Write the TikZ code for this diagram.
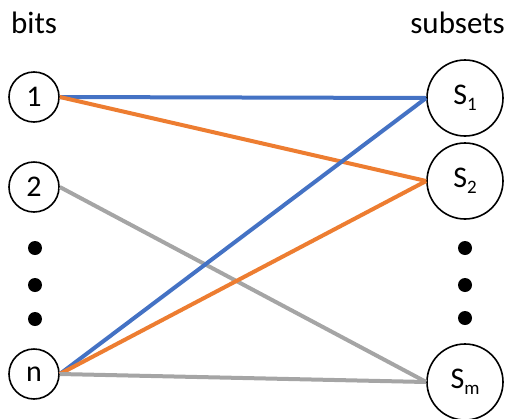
\documentclass[tikz,border=0pt]{standalone}
\usepackage{fontspec}
\setmainfont{Carlito}
\definecolor{eblue}{HTML}{4472C4}
\definecolor{eorange}{HTML}{ED7D31}
\definecolor{egray}{HTML}{A5A5A5}
\tikzset{
  bit/.style={draw=black, line width=1.6pt, circle, minimum size=50pt, inner sep=0pt, font=\fontsize{30}{34}\selectfont},
  subset/.style={draw=black, line width=1.6pt, circle, minimum size=76pt, inner sep=0pt, font=\fontsize{30}{34}\selectfont},
  dotnode/.style={fill=black, circle, minimum size=14pt, inner sep=0pt},
  lbl/.style={font=\fontsize{31}{34}\selectfont, inner sep=0pt},
  edge/.style={line width=4pt}
}
\newcommand{\sub}[1]{\raisebox{-6pt}{\fontsize{19}{21}\selectfont #1}}
\begin{document}
\begin{tikzpicture}[x=1pt,y=-1pt]
\useasboundingbox (0,0) rectangle (506,418);
\node[lbl, anchor=base west] (bits) at (11,33) {bits};
\node[lbl, anchor=base east] (subsets) at (505,33) {subsets};
\node[bit] (b1) at (34,97) {1};
\node[bit] (b2) at (34,187) {2};
\node[bit] (bn) at (34,374) {n};
\node[dotnode] (l1) at (35,248) {};
\node[dotnode] (l2) at (35,285) {};
\node[dotnode] (l3) at (35,319) {};
\node[subset] (s1) at (465,98) {S\sub{1}};
\node[subset] (s2) at (465,181) {S\sub{2}};
\node[subset] (sm) at (465,382) {S\sub{m}};
\node[dotnode] (r1) at (465,248) {};
\node[dotnode] (r2) at (465,285) {};
\node[dotnode] (r3) at (465,318) {};
\draw[edge, eblue] (b1.east) -- (s1.west);
\draw[edge, eorange] (b1.east) -- (s2.west);
\draw[edge, egray] (b2.east) -- (sm.west);
\draw[edge, eblue] (bn.east) -- (s1.west);
\draw[edge, eorange] (bn.east) -- (s2.west);
\draw[edge, egray] (bn.east) -- (sm.west);
\end{tikzpicture}
\end{document}
